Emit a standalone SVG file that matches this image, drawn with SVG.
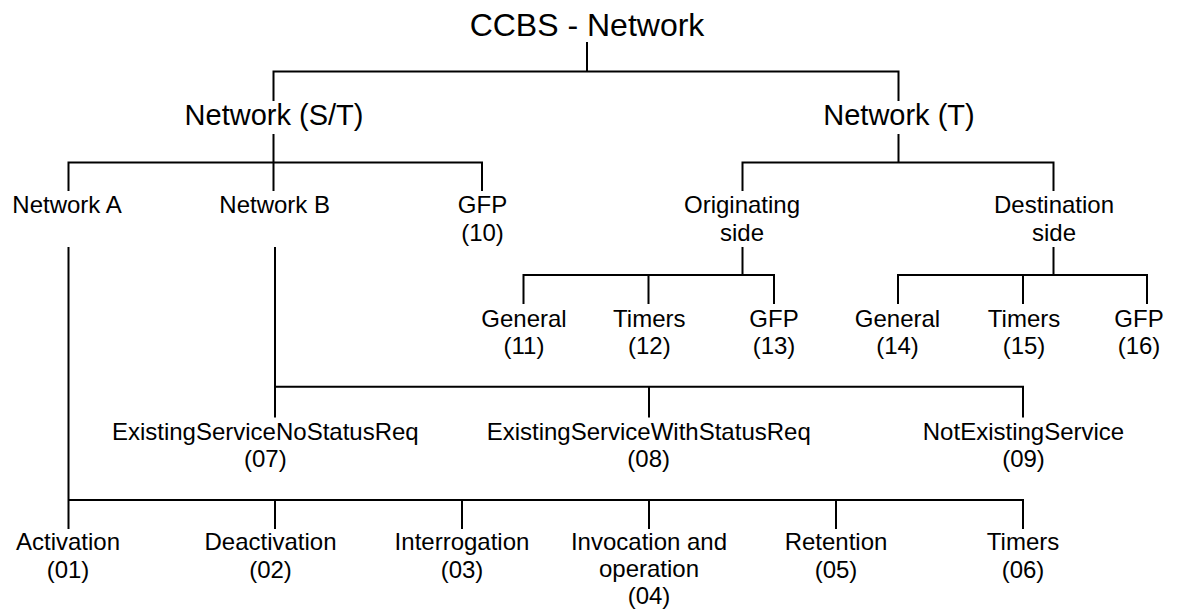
<svg xmlns="http://www.w3.org/2000/svg" width="1179" height="609" viewBox="0 0 1179 609">
<style>
text{font-family:"Liberation Sans",Arial,sans-serif;fill:#000;text-anchor:middle}
.t0{font-size:32px}
.t1{font-size:29px}
.t2{font-size:24px}
.c{stroke:#000;stroke-width:2;fill:none;stroke-linecap:square}
</style>
<rect width="1179" height="609" fill="#fff"/>
<g id="connectors" class="c">
<path d="M587,43V71.5M273.5,100V71.5H898.5V100"/>
<path d="M273.5,135V162.5M68.5,190V162.5H482V190M273.5,162.5V190"/>
<path d="M898.5,135V162.5M742.5,190V162.5H1053.5V190"/>
<path d="M742.5,248V275M523.5,303V275H774V303M648.5,275V303"/>
<path d="M1053.5,248V275M898,303V275H1147V303M1023,275V303"/>
<path d="M275,248V416.5M275,386.7H1023V416.5M649,386.7V416.5"/>
<path d="M68.5,248V528M68.5,500H1023V528M275,500V528M462,500V528M649,500V528M836,500V528"/>
</g>
<g id="root"><text class="t0" x="587" y="35.5">CCBS - Network</text></g>
<g id="network-st"><text class="t1" x="274" y="124.5">Network (S/T)</text></g>
<g id="network-t"><text class="t1" x="899" y="124.5">Network (T)</text></g>
<g id="network-a"><text class="t2" x="67" y="213.3">Network A</text></g>
<g id="network-b"><text class="t2" x="274.7" y="213.3">Network B</text></g>
<g id="gfp10"><text class="t2" x="482.5" y="213.3">GFP</text><text class="t2" x="482.5" y="240.5">(10)</text></g>
<g id="originating"><text class="t2" x="742" y="213.3">Originating</text><text class="t2" x="742" y="240.5">side</text></g>
<g id="destination"><text class="t2" x="1054" y="213.3">Destination</text><text class="t2" x="1054" y="240.5">side</text></g>
<g id="general11"><text class="t2" x="524" y="326.5">General</text><text class="t2" x="524" y="353.5">(11)</text></g>
<g id="timers12"><text class="t2" x="649.3" y="326.5">Timers</text><text class="t2" x="649.3" y="353.5">(12)</text></g>
<g id="gfp13"><text class="t2" x="774" y="326.5">GFP</text><text class="t2" x="774" y="353.5">(13)</text></g>
<g id="general14"><text class="t2" x="897.5" y="326.5">General</text><text class="t2" x="897.5" y="353.5">(14)</text></g>
<g id="timers15"><text class="t2" x="1024" y="326.5">Timers</text><text class="t2" x="1024" y="353.5">(15)</text></g>
<g id="gfp16"><text class="t2" x="1139" y="326.5">GFP</text><text class="t2" x="1139" y="353.5">(16)</text></g>
<g id="esnsr07"><text class="t2" x="265.3" y="439.5">ExistingServiceNoStatusReq</text><text class="t2" x="265.3" y="466.5">(07)</text></g>
<g id="eswsr08"><text class="t2" x="648.7" y="439.5">ExistingServiceWithStatusReq</text><text class="t2" x="648.7" y="466.5">(08)</text></g>
<g id="nes09"><text class="t2" x="1023.5" y="439.5">NotExistingService</text><text class="t2" x="1023.5" y="466.5">(09)</text></g>
<g id="activation01"><text class="t2" x="68" y="550">Activation</text><text class="t2" x="68" y="577.5">(01)</text></g>
<g id="deactivation02"><text class="t2" x="270.5" y="550">Deactivation</text><text class="t2" x="270.5" y="577.5">(02)</text></g>
<g id="interrogation03"><text class="t2" x="462" y="550">Interrogation</text><text class="t2" x="462" y="577.5">(03)</text></g>
<g id="invocation04"><text class="t2" x="649" y="550">Invocation and</text><text class="t2" x="649" y="577">operation</text><text class="t2" x="649" y="604">(04)</text></g>
<g id="retention05"><text class="t2" x="836" y="550">Retention</text><text class="t2" x="836" y="577.5">(05)</text></g>
<g id="timers06"><text class="t2" x="1023" y="550">Timers</text><text class="t2" x="1023" y="577.5">(06)</text></g>
</svg>
